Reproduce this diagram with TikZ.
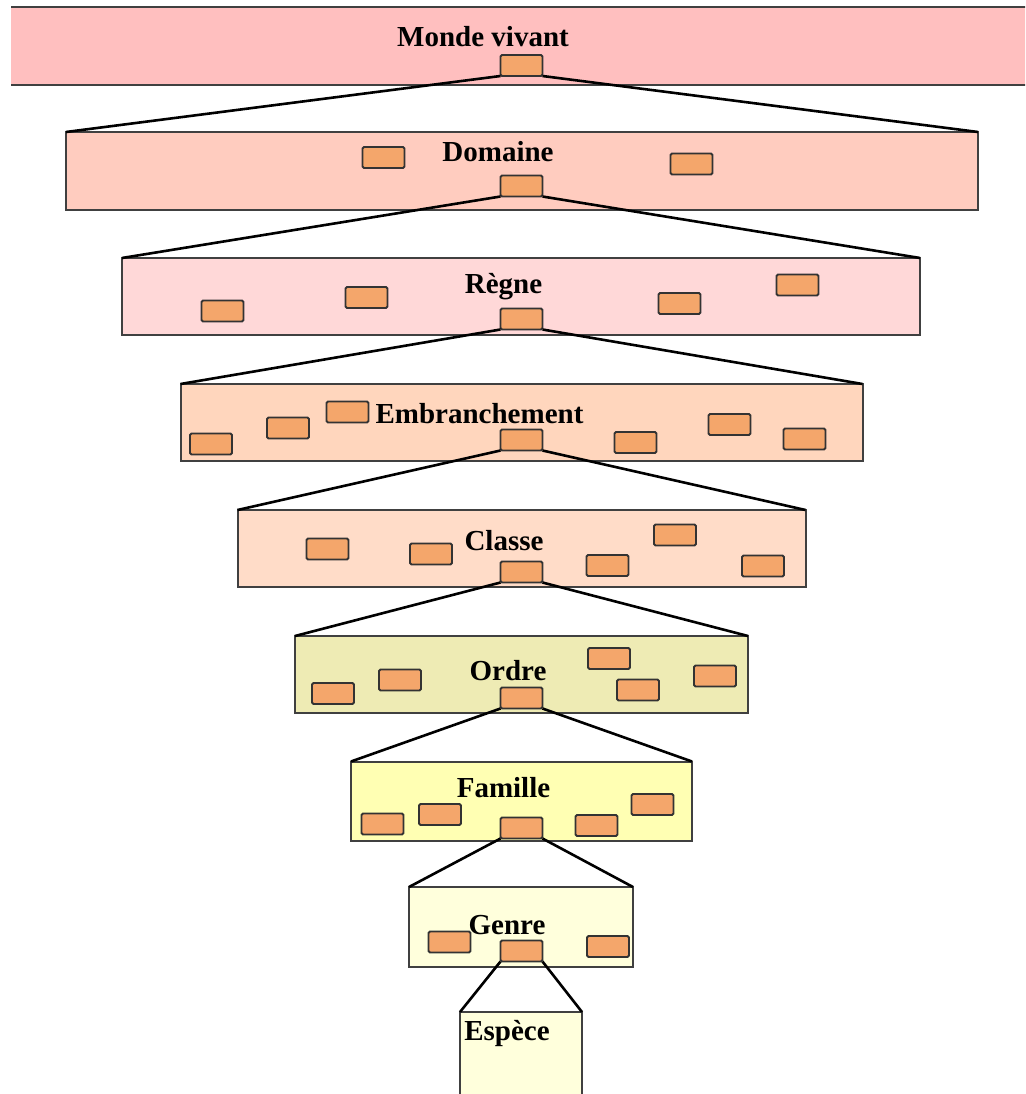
\documentclass[tikz,border=0pt]{standalone}
\usepackage{fontspec}
\setmainfont{Liberation Serif}

\definecolor{cmonde}{HTML}{FFBFBF}
\definecolor{cdomaine}{HTML}{FFCCBF}
\definecolor{cregne}{HTML}{FFD8D8}
\definecolor{cembr}{HTML}{FFD6BD}
\definecolor{cclasse}{HTML}{FFDCC8}
\definecolor{cordre}{HTML}{EEEBB4}
\definecolor{cfamille}{HTML}{FFFFB3}
\definecolor{cgenre}{HTML}{FFFFDC}
\definecolor{cboite}{HTML}{F4A66B}

\begin{document}
\begin{tikzpicture}[x=1pt, y=-1pt,
	niveau/.style={draw=black!75, line width=2pt, inner sep=0pt, outer sep=0pt},
	boite/.style={draw=black!80, fill=cboite, line width=1.8pt, rounded corners=1.5pt,
		minimum width=42pt, minimum height=21pt, inner sep=0pt, outer sep=0pt},
	titre/.style={font=\bfseries\fontsize{29}{31}\selectfont, anchor=base, inner sep=0pt},
	lien/.style={line width=2.6pt}]
	\useasboundingbox (0,0) rectangle (1025,1094);
	\clip (0,0) rectangle (1025,1094);

	% les niveaux
	\node[fill=cmonde, inner sep=0pt, outer sep=0pt, minimum width=1040pt, minimum height=78pt]
		(monde) at (531,46.5) {};
	\draw[draw=black!75, line width=2pt] (monde.north west) -- (monde.north east)
		(monde.south west) -- (monde.south east);
	\node[niveau, fill=cdomaine, minimum width=912pt, minimum height=78pt] (domaine) at (522,171) {};
	\node[niveau, fill=cregne, minimum width=798pt, minimum height=77pt] (regne) at (521,296.5) {};
	\node[niveau, fill=cembr, minimum width=682pt, minimum height=77pt] (embr) at (521.5,422.5) {};
	\node[niveau, fill=cclasse, minimum width=568pt, minimum height=77pt] (classe) at (521.5,548.5) {};
	\node[niveau, fill=cordre, minimum width=453pt, minimum height=77pt] (ordre) at (521.5,674.5) {};
	\node[niveau, fill=cfamille, minimum width=341pt, minimum height=79pt] (famille) at (521.5,801) {};
	\node[niveau, fill=cgenre, minimum width=224pt, minimum height=80pt] (genre) at (521,927) {};
	\node[niveau, fill=cgenre, minimum width=122pt, minimum height=100pt] (espece) at (521,1062) {};

	% les boites du milieu
	\node[boite] (monde0) at (521.5,65.5) {};
	\node[boite] (domaine0) at (521.5,186) {};
	\node[boite] (regne0) at (521.5,319) {};
	\node[boite] (embr0) at (521.5,440) {};
	\node[boite] (classe0) at (521.5,572) {};
	\node[boite] (ordre0) at (521.5,698) {};
	\node[boite] (famille0) at (521.5,828) {};
	\node[boite] (genre0) at (521.5,951) {};

	% les liens
	\draw[lien] (monde0.south west) -- (domaine.north west)
		(monde0.south east) -- (domaine.north east);
	\draw[lien] (domaine0.south west) -- (regne.north west)
		(domaine0.south east) -- (regne.north east);
	\draw[lien] (regne0.south west) -- (embr.north west)
		(regne0.south east) -- (embr.north east);
	\draw[lien] (embr0.south west) -- (classe.north west)
		(embr0.south east) -- (classe.north east);
	\draw[lien] (classe0.south west) -- (ordre.north west)
		(classe0.south east) -- (ordre.north east);
	\draw[lien] (ordre0.south west) -- (famille.north west)
		(ordre0.south east) -- (famille.north east);
	\draw[lien] (famille0.south west) -- (genre.north west)
		(famille0.south east) -- (genre.north east);
	\draw[lien] (genre0.south west) -- (espece.north west)
		(genre0.south east) -- (espece.north east);

	% les autres boites
	\foreach \x/\y [count=\i] in {383.5/157.5, 691.5/164}
		\node[boite] (domaine\i) at (\x,\y) {};
	\foreach \x/\y [count=\i] in {222.5/311, 366.5/297.5, 679.5/303.5, 797.5/285}
		\node[boite] (regne\i) at (\x,\y) {};
	\foreach \x/\y [count=\i] in {211/444, 288/428, 347.5/412, 635.5/442.5, 729.5/424.5, 804.5/439}
		\node[boite] (embr\i) at (\x,\y) {};
	\foreach \x/\y [count=\i] in {327.5/549, 431/554, 607.5/565.5, 675/535, 763/566}
		\node[boite] (classe\i) at (\x,\y) {};
	\foreach \x/\y [count=\i] in {333/693.5, 400/680, 609/658.5, 638/690, 715/676}
		\node[boite] (ordre\i) at (\x,\y) {};
	\foreach \x/\y [count=\i] in {382.5/824, 440/814.5, 596.5/825.5, 652.5/804.5}
		\node[boite] (famille\i) at (\x,\y) {};
	\foreach \x/\y [count=\i] in {449.5/942, 608/946.5}
		\node[boite] (genre\i) at (\x,\y) {};

	% les titres
	\node[titre] (tmonde) at (483,47) {Monde vivant};
	\node[titre] (tdomaine) at (498,162) {Domaine};
	\node[titre] (tregne) at (503.5,293) {Règne};
	\node[titre] (tembr) at (479.5,423) {Embranchement};
	\node[titre] (tclasse) at (504,550) {Classe};
	\node[titre] (tordre) at (508,680) {Ordre};
	\node[titre] (tfamille) at (503.5,797) {Famille};
	\node[titre] (tgenre) at (507,934) {Genre};
	\node[titre] (tespece) at (507,1040) {Espèce};
\end{tikzpicture}
\end{document}
